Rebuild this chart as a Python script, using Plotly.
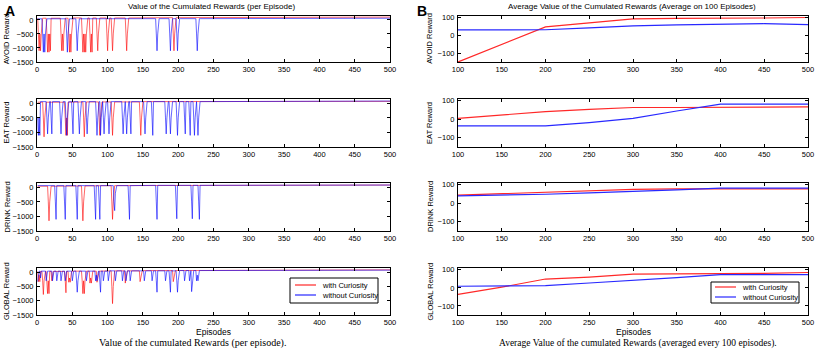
import numpy as np
import plotly.graph_objects as go
from plotly.subplots import make_subplots

W, H = 816, 349

# ---------------- data ----------------
EPISODES = list(range(1, 501))
BLOCK = 50  # baseline level given per block of 50 episodes

# Left panels: per-episode cumulated rewards (baseline per 50-episode block + explicit drops)
AVOID_CUR_BASE = [60, 70, 70, 80, 90, 100, 100, 100, 100, 100]
AVOID_NOC_BASE = [40, 40, 40, 45, 45, 60, 60, 60, 60, 60]
EAT_CUR_BASE = [40, 50, 50, 60, 60, 70, 70, 70, 70, 70]
EAT_NOC_BASE = [60, 60, 60, 60, 60, 80, 80, 80, 80, 80]
DRINK_CUR_BASE = [40, 50, 60, 70, 75, 80, 80, 80, 80, 80]
DRINK_NOC_BASE = [60, 60, 60, 70, 70, 80, 80, 80, 80, 80]
GLOBAL_CUR_BASE = [30, 40, 50, 60, 70, 80, 80, 80, 85, 85]
GLOBAL_NOC_BASE = [40, 40, 50, 50, 60, 75, 75, 75, 75, 75]

# (first episode, values of consecutive episodes)
AVOID_CUR_DROPS = [
    (2, [-500, -1100, -500, -1100, -500]), (14, [-500, -1150, -500, -1150, -500, -1100]),
    (34, [-500, -1100, -500, -1100, -500]), (45, [-500, -1150, -500, -1150, -500]),
    (64, [-500, -1150, -500, -1150, -500, -1150, -500]), (75, [-500, -1150, -500, -1150]),
    (85, [-500, -1100, -500]), (99, [-500, -1100, -500]), (106, [-500, -1100, -500]),
    (126, [-500, -1100, -500]), (193, [-500, -1100, -500]),
]
AVOID_NOC_DROPS = [
    (8, [-500, -1150, -500, -1150, -500]), (42, [-500, -1150, -500]), (56, [-500, -1100, -500]),
    (169, [-500, -1100, -500]), (188, [-500, -1100, -500]), (198, [-500, -1100, -500]),
    (226, [-500, -1100, -500]),
]
EAT_CUR_DROPS = [
    (9, [-500, -1150, -500]), (40, [-500, -1100, -500, -1100]), (66, [-500, -1150, -500]),
    (88, [-500, -1100, -500]), (106, [-500, -1100, -500]), (146, [-500, -1100, -500]),
]
EAT_NOC_DROPS = [
    (1, [-500, -1100, -500, -1100]), (14, [-500, -1050, -500]), (20, [-500, -1050]),
    (33, [-500, -1050, -500]), (41, [-500, -1100, -500]), (50, [-500, -1050]),
    (59, [-500, -1050, -500]), (70, [-500, -1050, -500]), (84, [-500, -1100, -500]),
    (90, [-1100, -500]), (94, [-500, -1050, -500]), (101, [-500, -1050, -500]),
    (121, [-500, -1050, -500]), (126, [-500, -1050, -500]), (132, [-500, -1050]),
    (152, [-500, -1050, -500]), (163, [-500, -1100]), (182, [-500, -1050, -500]),
    (188, [-500, -1050, -500]), (198, [-500, -1100, -500]), (209, [-500, -1050]),
    (216, [-500, -1100]), (222, [-500, -1100, -500]), (227, [-500, -1100, -500]),
]
DRINK_CUR_DROPS = [
    (16, [-500, -1150, -500]), (64, [-500, -1150, -500]), (106, [-500, -1100, -500]),
]
DRINK_NOC_DROPS = [
    (26, [-500, -1100]), (39, [-500, -1100]), (56, [-500, -1100]), (82, [-500, -1100]),
    (88, [-500, -1100]), (109, [-500, -800, -200]), (130, [-500, -1100]), (169, [-500, -1100]),
    (197, [-500, -1080]), (219, [-500, -1080]), (229, [-500, -1100]),
]
GLOBAL_CUR_DROPS = [
    (2, [-330, -100, -330]), (8, [-300, -780, -300]), (14, [-300, -750, -300, -750]),
    (21, [-300]), (40, [-300, -720]), (45, [-350, -200, -350]),
    (64, [-300, -750, -300, -750, -300]), (75, [-380, -200, -380]), (85, [-350, -200]),
    (106, [-500, -1100, -500]), (125, [-380, -200]), (146, [-330, -200]), (193, [-330, -200]),
]
GLOBAL_NOC_DROPS = [
    (1, [-330, -100]), (5, [-200]), (13, [-300, -100]), (22, [-300]), (28, [-300]),
    (34, [-300, -100]), (40, [-300]), (50, [-300]), (56, [-300, -700, -300]), (70, [-300]),
    (83, [-300, -100, -300]), (89, [-300, -700]), (94, [-300, -100]), (101, [-300, -100]),
    (111, [-300]), (121, [-300, -100]), (126, [-300, -100]), (132, [-300]),
    (152, [-300, -100]), (163, [-300]), (169, [-300, -700]), (182, [-300, -100]),
    (188, [-300, -700]), (198, [-300, -700, -300]), (209, [-300]), (216, [-300]),
    (219, [-680, -300]), (226, [-300, -100, -300]),
]

# Right panels: averages over 100 episodes
AVG_X = [100, 150, 200, 250, 300, 350, 400, 450, 500]
AVOID_CUR_AVG = [-150, -50, 47, 70, 92, 95, 95, 97, 100]
AVOID_NOC_AVG = [30, 30, 31, 42, 53, 58, 63, 65, 60]
EAT_CUR_AVG = [5, 24, 42, 54, 64, 64, 64, 65, 67]
EAT_NOC_AVG = [-36, -36, -36, -18, 5, 45, 82, 82, 82]
DRINK_CUR_AVG = [44, 52, 62, 70, 76, 78, 77, 77, 78]
DRINK_NOC_AVG = [40, 44, 49, 57, 67, 73, 82, 82, 82]
GLOBAL_CUR_AVG = [-36, 4, 49, 60, 76, 76, 76, 80, 85]
GLOBAL_NOC_AVG = [9, 11, 13, 27, 40, 57, 73, 73, 73]

ROW_NAMES = ["AVOID Reward", "EAT Reward", "DRINK Reward", "GLOBAL Reward"]
SERIES_NAMES = ["with Curiosity", "without Curiosity"]
LEFT_TICKS = [-1500, -1000, -500, 0]
RIGHT_TICKS = [-100, 0, 100]


def build(base, drops):
    y = np.repeat(np.array(base, dtype=float), BLOCK)
    for start, vals in drops:
        for i, v in enumerate(vals):
            y[start - 1 + i] = v
    return y


LEFT = [
    (AVOID_CUR_BASE, AVOID_CUR_DROPS, AVOID_NOC_BASE, AVOID_NOC_DROPS),
    (EAT_CUR_BASE, EAT_CUR_DROPS, EAT_NOC_BASE, EAT_NOC_DROPS),
    (DRINK_CUR_BASE, DRINK_CUR_DROPS, DRINK_NOC_BASE, DRINK_NOC_DROPS),
    (GLOBAL_CUR_BASE, GLOBAL_CUR_DROPS, GLOBAL_NOC_BASE, GLOBAL_NOC_DROPS),
]
RIGHT = [
    (AVOID_CUR_AVG, AVOID_NOC_AVG), (EAT_CUR_AVG, EAT_NOC_AVG),
    (DRINK_CUR_AVG, DRINK_NOC_AVG), (GLOBAL_CUR_AVG, GLOBAL_NOC_AVG),
]

# ---------------- figure ----------------
FONT = "Liberation Sans, Arial, sans-serif"
SERIF = "Liberation Serif, Times New Roman, serif"
RED_L, BLUE_L = "rgba(255,0,0,0.6)", "rgba(0,0,255,0.6)"
RED, BLUE = "rgb(255,40,40)", "rgb(40,40,255)"

fig = make_subplots(rows=4, cols=2)

for r in range(4):
    cb, cd, nb, nd = LEFT[r]
    fig.add_trace(go.Scatter(x=EPISODES, y=build(cb, cd), mode="lines",
                             line=dict(color=RED_L, width=1), name=SERIES_NAMES[0],
                             showlegend=False), row=r + 1, col=1)
    fig.add_trace(go.Scatter(x=EPISODES, y=build(nb, nd), mode="lines",
                             line=dict(color=BLUE_L, width=1), name=SERIES_NAMES[1],
                             showlegend=False), row=r + 1, col=1)
    ca, na = RIGHT[r]
    fig.add_trace(go.Scatter(x=AVG_X, y=ca, mode="lines", line=dict(color=RED, width=1.2),
                             name=SERIES_NAMES[0], showlegend=False), row=r + 1, col=2)
    fig.add_trace(go.Scatter(x=AVG_X, y=na, mode="lines", line=dict(color=BLUE, width=1.2),
                             name=SERIES_NAMES[1], showlegend=False), row=r + 1, col=2)

ROWS_PX = [(15.7, 62), (99, 147), (183, 231), (268, 315)]
LX, RX = (37, 390), (458, 808)


def px_x(a):
    return a / W


def px_y(a):
    return 1 - a / H


axis_common = dict(showline=True, linecolor="black", linewidth=1, mirror="allticks",
                   ticks="inside", ticklen=3, tickcolor="black", showgrid=False,
                   zeroline=False, tickfont=dict(size=7.5, color="black", family=FONT))

for r in range(4):
    top, bot = ROWS_PX[r]
    ydom = [px_y(bot), px_y(top)]
    il = 2 * r + 1
    ir = 2 * r + 2
    sl = "" if il == 1 else str(il)
    sr = str(ir)
    fig.layout["xaxis" + sl].update(domain=[px_x(LX[0]), px_x(LX[1])], range=[0, 500],
                                     tickvals=list(range(0, 501, 50)), **axis_common)
    fig.layout["yaxis" + sl].update(domain=ydom, range=[-1500, 150], tickvals=LEFT_TICKS,
                                     ticklabelstandoff=1, **axis_common)
    fig.layout["xaxis" + sr].update(domain=[px_x(RX[0]), px_x(RX[1])], range=[100, 500],
                                     tickvals=list(range(100, 501, 50)), **axis_common)
    fig.layout["yaxis" + sr].update(domain=ydom, range=[-150, 110], tickvals=RIGHT_TICKS,
                                     ticklabelstandoff=1, **axis_common)

annots = []
for r in range(4):
    top, bot = ROWS_PX[r]
    yc = px_y((top + bot) / 2)
    for xc in (6.5, 430):
        annots.append(dict(x=px_x(xc), y=yc, text=ROW_NAMES[r], textangle=-90,
                           xanchor="center", yanchor="middle",
                           font=dict(size=7.5, family=FONT, color="black")))

annots += [
    dict(x=px_x(3), y=px_y(1), text="<b>A</b>", font=dict(size=14, family=FONT, color="black"),
         xanchor="left", yanchor="top"),
    dict(x=px_x(415), y=px_y(1), text="<b>B</b>", font=dict(size=14, family=FONT, color="black"),
         xanchor="left", yanchor="top"),
    dict(x=px_x(211), y=px_y(7), text="Value of the Cumulated Rewards (per Episode)",
         font=dict(size=8, family=FONT, color="black"), xanchor="center", yanchor="middle"),
    dict(x=px_x(632), y=px_y(7), text="Average Value of the Cumulated Rewards (Average on 100 Episodes)",
         font=dict(size=8, family=FONT, color="black"), xanchor="center", yanchor="middle"),
    dict(x=px_x(213), y=px_y(332), text="Episodes", font=dict(size=8.5, family=FONT, color="black"),
         xanchor="center", yanchor="middle"),
    dict(x=px_x(633), y=px_y(332), text="Episodes", font=dict(size=8.5, family=FONT, color="black"),
         xanchor="center", yanchor="middle"),
    dict(x=px_x(192), y=px_y(343), text="Value of the cumulated Rewards (per episode).",
         font=dict(size=10, family=SERIF, color="black"), xanchor="center", yanchor="middle"),
    dict(x=px_x(638), y=px_y(343), text="Average Value of the cumulated Rewards (averaged every 100 episodes).",
         font=dict(size=9.5, family=SERIF, color="black"), xanchor="center", yanchor="middle"),
]

# legend boxes (drawn in paper pixels)
shapes = []
LEGENDS = [  # box x0, x1, y0, y1, line x0, x1, text x, row ys
    (290, 378, 278, 303, 295, 316, 320, (285, 295)),
    (711, 799, 282, 303, 715, 736, 740, (287, 297)),
]
for bx0, bx1, by0, by1, lx0, lx1, tx, ys in LEGENDS:
    shapes.append(dict(type="rect", xref="paper", yref="paper", x0=px_x(bx0), x1=px_x(bx1),
                       y0=px_y(by1), y1=px_y(by0), line=dict(color="black", width=1),
                       fillcolor="white", layer="above"))
    for yy, col, name in zip(ys, (RED, BLUE), SERIES_NAMES):
        shapes.append(dict(type="line", xref="paper", yref="paper", x0=px_x(lx0), x1=px_x(lx1),
                           y0=px_y(yy), y1=px_y(yy), line=dict(color=col, width=1.2),
                           layer="above"))
        annots.append(dict(x=px_x(tx), y=px_y(yy), text=name, xanchor="left", yanchor="middle",
                           font=dict(size=7.5, family=FONT, color="black")))

for a in annots:
    a.setdefault("xref", "paper")
    a.setdefault("yref", "paper")
    a.setdefault("showarrow", False)

fig.update_layout(
    width=W, height=H, margin=dict(l=0, r=0, t=0, b=0, autoexpand=False),
    paper_bgcolor="white", plot_bgcolor="white",
    font=dict(family=FONT, size=8, color="black"),
    annotations=annots, shapes=shapes, showlegend=False,
)

fig.write_html("out.html", config={"displayModeBar": False},
               post_script="document.body.style.margin='0px';")
